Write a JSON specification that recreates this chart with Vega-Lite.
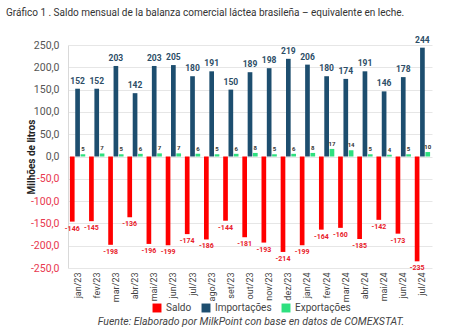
{
  "$schema": "https://vega.github.io/schema/vega-lite/v6.json",
  "width": 364,
  "height": 223,
  "autosize": {"type": "none"},
  "padding": {"left": 68, "top": 45, "right": 18, "bottom": 64},
  "background": "white",
  "title": {
    "text": "Gráfico 1 . Saldo mensual de la balanza comercial láctea brasileña – equivalente en leche.",
    "anchor": "start",
    "frame": "group",
    "dx": -62,
    "offset": 18,
    "fontSize": 10,
    "fontWeight": "normal",
    "font": "Roboto",
    "color": "#333333"
  },
  "data": {
    "values": [
      {"mes": "jan/23", "serie": "Saldo", "valor": -146}, {"mes": "jan/23", "serie": "Importações", "valor": 152}, {"mes": "jan/23", "serie": "Exportações", "valor": 5},
      {"mes": "fev/23", "serie": "Saldo", "valor": -145}, {"mes": "fev/23", "serie": "Importações", "valor": 152}, {"mes": "fev/23", "serie": "Exportações", "valor": 7},
      {"mes": "mar/23", "serie": "Saldo", "valor": -198}, {"mes": "mar/23", "serie": "Importações", "valor": 203}, {"mes": "mar/23", "serie": "Exportações", "valor": 5},
      {"mes": "abr/23", "serie": "Saldo", "valor": -136}, {"mes": "abr/23", "serie": "Importações", "valor": 142}, {"mes": "abr/23", "serie": "Exportações", "valor": 6},
      {"mes": "mai/23", "serie": "Saldo", "valor": -196}, {"mes": "mai/23", "serie": "Importações", "valor": 203}, {"mes": "mai/23", "serie": "Exportações", "valor": 7},
      {"mes": "jun/23", "serie": "Saldo", "valor": -199}, {"mes": "jun/23", "serie": "Importações", "valor": 205}, {"mes": "jun/23", "serie": "Exportações", "valor": 7},
      {"mes": "jul/23", "serie": "Saldo", "valor": -174}, {"mes": "jul/23", "serie": "Importações", "valor": 180}, {"mes": "jul/23", "serie": "Exportações", "valor": 6},
      {"mes": "ago/23", "serie": "Saldo", "valor": -186}, {"mes": "ago/23", "serie": "Importações", "valor": 191}, {"mes": "ago/23", "serie": "Exportações", "valor": 5},
      {"mes": "set/23", "serie": "Saldo", "valor": -144}, {"mes": "set/23", "serie": "Importações", "valor": 150}, {"mes": "set/23", "serie": "Exportações", "valor": 6},
      {"mes": "out/23", "serie": "Saldo", "valor": -181}, {"mes": "out/23", "serie": "Importações", "valor": 189}, {"mes": "out/23", "serie": "Exportações", "valor": 8},
      {"mes": "nov/23", "serie": "Saldo", "valor": -193}, {"mes": "nov/23", "serie": "Importações", "valor": 198}, {"mes": "nov/23", "serie": "Exportações", "valor": 5},
      {"mes": "dez/23", "serie": "Saldo", "valor": -214}, {"mes": "dez/23", "serie": "Importações", "valor": 219}, {"mes": "dez/23", "serie": "Exportações", "valor": 6},
      {"mes": "jan/24", "serie": "Saldo", "valor": -199}, {"mes": "jan/24", "serie": "Importações", "valor": 206}, {"mes": "jan/24", "serie": "Exportações", "valor": 8},
      {"mes": "fev/24", "serie": "Saldo", "valor": -164}, {"mes": "fev/24", "serie": "Importações", "valor": 180}, {"mes": "fev/24", "serie": "Exportações", "valor": 17},
      {"mes": "mar/24", "serie": "Saldo", "valor": -160}, {"mes": "mar/24", "serie": "Importações", "valor": 174}, {"mes": "mar/24", "serie": "Exportações", "valor": 14},
      {"mes": "abr/24", "serie": "Saldo", "valor": -185}, {"mes": "abr/24", "serie": "Importações", "valor": 191}, {"mes": "abr/24", "serie": "Exportações", "valor": 5},
      {"mes": "mai/24", "serie": "Saldo", "valor": -142}, {"mes": "mai/24", "serie": "Importações", "valor": 146}, {"mes": "mai/24", "serie": "Exportações", "valor": 4},
      {"mes": "jun/24", "serie": "Saldo", "valor": -173}, {"mes": "jun/24", "serie": "Importações", "valor": 178}, {"mes": "jun/24", "serie": "Exportações", "valor": 5},
      {"mes": "jul/24", "serie": "Saldo", "valor": -235}, {"mes": "jul/24", "serie": "Importações", "valor": 244}, {"mes": "jul/24", "serie": "Exportações", "valor": 10}
    ]
  },
  "encoding": {
    "x": {
      "field": "mes",
      "type": "nominal",
      "sort": null,
      "scale": {"paddingInner": 0.2, "paddingOuter": 0.1},
      "axis": {
        "title": null,
        "labelAngle": -90,
        "labelFontSize": 9,
        "labelFont": "Roboto",
        "labelColor": "#444444",
        "domain": false,
        "ticks": false,
        "labelPadding": 4
      }
    },
    "xOffset": {
      "field": "serie",
      "type": "nominal",
      "sort": ["Saldo", "Importações", "Exportações"],
      "scale": {"paddingInner": 0.12}
    },
    "y": {
      "field": "valor",
      "type": "quantitative",
      "scale": {"domain": [-250, 250], "nice": false},
      "axis": {
        "title": "Milhões de litros",
        "titleFontSize": 10,
        "titleFont": "Roboto",
        "titleFontWeight": "bold",
        "titleColor": "#222222",
        "titlePadding": -6,
        "values": [-250, -200, -150, -100, -50, 0, 50, 100, 150, 200, 250],
        "labelExpr": "replace(replace(format(datum.value, '.1f'), '.', ','), '−', '-')",
        "labelFontSize": 10.5,
        "labelFont": "Roboto",
        "labelColor": {"condition": {"test": "datum.value < 0", "value": "#e8384f"}, "value": "#555555"},
        "labelPadding": 9,
        "ticks": false,
        "domainColor": "#d9d9d9",
        "gridColor": "#e6e6e6"
      }
    }
  },
  "layer": [
    {
      "mark": {"type": "bar"},
      "encoding": {
        "color": {
          "field": "serie",
          "type": "nominal",
          "sort": ["Saldo", "Importações", "Exportações"],
          "scale": {"domain": ["Saldo", "Importações", "Exportações"], "range": ["#ff0000", "#1d4e6f", "#2ee07f"]},
          "legend": {
            "orient": "none",
            "legendX": 30,
            "legendY": 258,
            "direction": "horizontal",
            "title": "Fuente: Elaborado por MilkPoint con base en datos de COMEXSTAT.",
            "titleOrient": "bottom",
            "titleAnchor": "middle",
            "titleFontStyle": "italic",
            "titleFontWeight": "normal",
            "titleFont": "Roboto",
            "titleFontSize": 10.5,
            "titleColor": "#444444",
            "titleLimit": 450,
            "titlePadding": 4,
            "symbolType": "square",
            "symbolSize": 80,
            "symbolStrokeWidth": 0,
            "labelFont": "Roboto",
            "labelFontSize": 10,
            "labelColor": "#444444",
            "columnPadding": 9
          }
        }
      }
    },
    {
      "transform": [{"filter": "datum.serie == 'Importações'"}],
      "mark": {"type": "text", "baseline": "bottom", "dy": -3, "fontSize": 8.5, "fontWeight": "bold", "font": "Roboto", "color": "#2c4d66"},
      "encoding": {"text": {"field": "valor", "type": "nominal"}}
    },
    {
      "transform": [{"filter": "datum.serie == 'Exportações'"}],
      "mark": {"type": "text", "baseline": "bottom", "dy": -2, "fontSize": 6, "fontWeight": "bold", "font": "Roboto", "color": "#333333"},
      "encoding": {"text": {"field": "valor", "type": "nominal"}}
    },
    {
      "transform": [{"filter": "datum.serie == 'Saldo'"}],
      "mark": {"type": "text", "baseline": "top", "dy": 3, "fontSize": 7, "fontWeight": "bold", "font": "Roboto", "color": "#e8202a"},
      "encoding": {"text": {"field": "valor", "type": "nominal"}}
    }
  ],
  "config": {"view": {"stroke": null}}
}
